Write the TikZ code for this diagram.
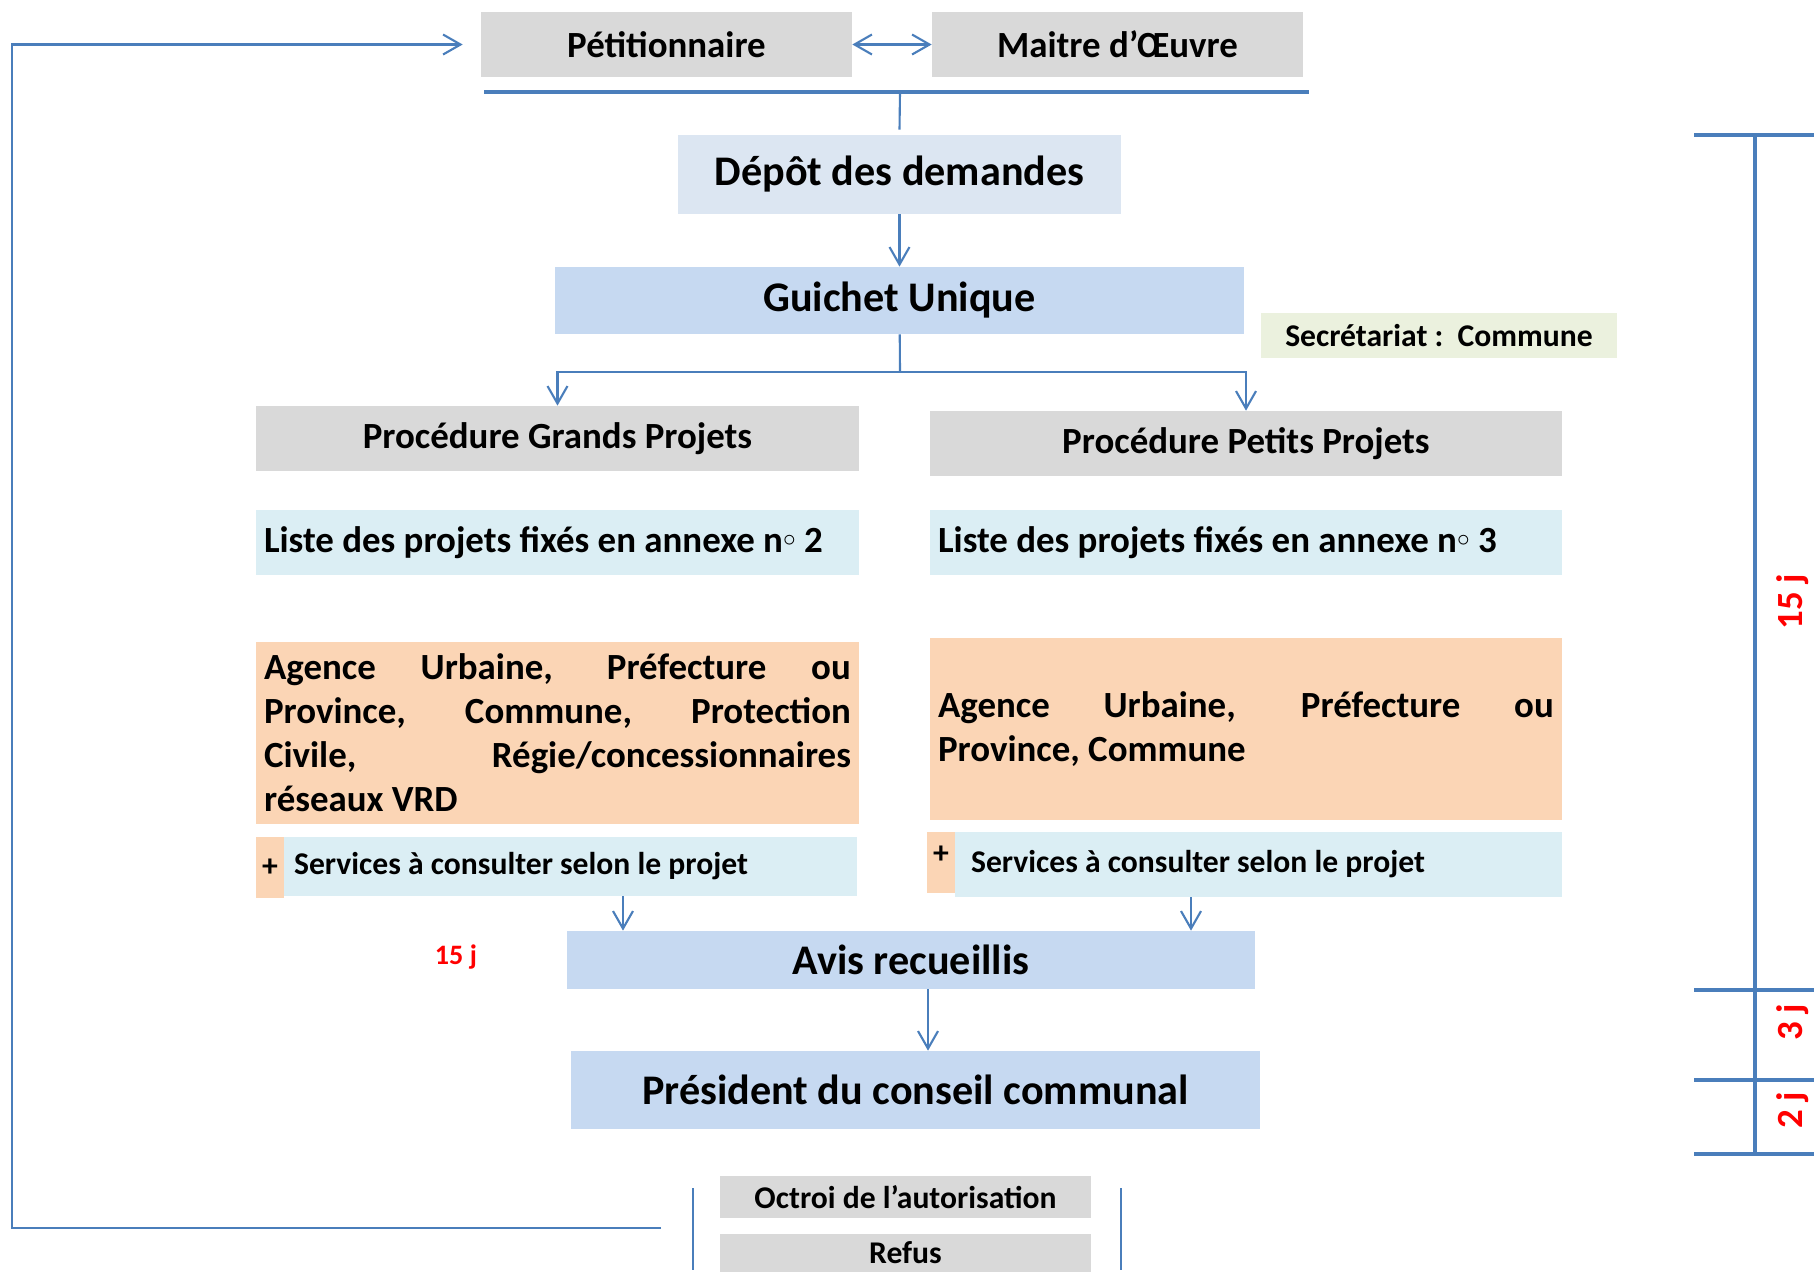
\documentclass[tikz,border=0pt]{standalone}
\usepackage{fontspec}
\setmainfont{Carlito}
\usetikzlibrary{arrows.meta}
\definecolor{linkblue}{HTML}{4A7EBB}
\definecolor{greybox}{HTML}{D9D9D9}
\definecolor{paleblue}{HTML}{DCE6F2}
\definecolor{midblue}{HTML}{C6D9F1}
\definecolor{aqua}{HTML}{DBEEF4}
\definecolor{peach}{HTML}{FBD5B5}
\definecolor{sage}{HTML}{EBF1DE}
\newcommand{\numero}{n\raisebox{0.3ex}{$\scriptstyle\circ$}}

\begin{document}
\begin{tikzpicture}[x=0.02cm, y=-0.02cm,
    big/.style={font=\fontsize{24}{28}\selectfont\bfseries},
    mid/.style={font=\fontsize{21}{25}\selectfont\bfseries},
    small/.style={font=\fontsize{18}{21}\selectfont\bfseries},
    box/.style={inner sep=0pt, align=center},
    link/.style={draw=linkblue, line width=1.2pt},
    bar/.style={draw=linkblue, line width=1.8pt},
    tip/.style={-{Straight Barb[length=3.5mm,width=4mm]}},
    delay/.style={text=red, font=\fontsize{21}{25}\selectfont\bfseries, rotate=90}]
    \useasboundingbox (0,0) rectangle (1816,1272);

    \node[box, mid, fill=greybox, minimum width=7.42cm, minimum height=1.3cm] (pet) at (666.5,44.5) {Pétitionnaire};
    \node[box, mid, fill=greybox, minimum width=7.42cm, minimum height=1.3cm] (moe) at (1117.5,44.5) {Maitre d’Œuvre};
    \node[box, big, fill=paleblue, minimum width=8.86cm, minimum height=1.58cm] (depot) at (899.5,174.5) {Dépôt des demandes};
    \node[box, big, fill=midblue, minimum width=13.78cm, minimum height=1.34cm] (guichet) at (899.5,300.5) {Guichet Unique};
    \node[box, small, fill=sage, minimum width=7.12cm, minimum height=0.9cm] (secr) at (1439,335.5) {Secrétariat :\ \ Commune};

    \node[box, mid, fill=greybox, minimum width=12.06cm, minimum height=1.3cm] (procG) at (557.5,438.5) {Procédure Grands Projets};
    \node[box, mid, fill=greybox, minimum width=12.64cm, minimum height=1.3cm] (procP) at (1246,443.5) {Procédure Petits Projets};
    \node[box, mid, fill=aqua, inner xsep=0.16cm, text width=11.74cm, align=flush left, minimum height=1.3cm] (listeG) at (557.5,542.5) {Liste des projets fixés en annexe \numero\ 2};
    \node[box, mid, fill=aqua, inner xsep=0.16cm, text width=12.32cm, align=flush left, minimum height=1.3cm] (listeP) at (1246,542.5) {Liste des projets fixés en annexe \numero\ 3};
    \node[box, mid, fill=peach, inner xsep=0.16cm, text width=11.74cm, align=justify, minimum height=3.64cm] (agG) at (557.5,733) {Agence Urbaine, Préfecture ou\linebreak Province, Commune, Protection\linebreak Civile, Régie/concessionnaires\linebreak réseaux VRD};
    \node[box, mid, fill=peach, inner xsep=0.16cm, text width=12.32cm, align=justify, minimum height=3.64cm] (agP) at (1246,729) {Agence Urbaine, Préfecture ou\linebreak Province, Commune};

    \node[box, small, fill=peach, minimum width=0.56cm, minimum height=1.22cm] (plusG) at (270,867.5) {+};
    \node[box, small, fill=aqua, inner xsep=0.2cm, text width=11.06cm, align=flush left, minimum height=1.18cm] (servG) at (570.5,866.5) {Services à consulter selon le projet};
    \node[box, small, fill=peach, minimum width=0.56cm, minimum height=1.22cm, text depth=0.3cm] (plusP) at (941,862.5) {+};
    \node[box, small, fill=aqua, inner xsep=0.32cm, text width=11.5cm, align=flush left, minimum height=1.3cm] (servP) at (1258.5,864.5) {Services à consulter selon le projet};

    \node[box, big, fill=midblue, minimum width=13.76cm, minimum height=1.16cm] (avis) at (911,960) {Avis recueillis};
    \node[box, big, fill=midblue, minimum width=13.78cm, minimum height=1.56cm] (pres) at (915.5,1090) {Président du conseil communal};
    \node[box, small, fill=greybox, minimum width=7.42cm, minimum height=0.84cm] (octroi) at (905.5,1197) {Octroi de l’autorisation};
    \node[box, small, fill=greybox, minimum width=7.42cm, minimum height=0.76cm] (refus) at (905.5,1253) {Refus};

    \node[text=red, font=\fontsize{16}{19}\selectfont\bfseries] (dAvis) at (456,957) {15 j};
    \node[delay] (d15) at (1793,602) {15 j};
    \node[delay] (d3) at (1793,1022) {3 j};
    \node[delay] (d2) at (1793,1110) {2 j};

    \coordinate (barL) at (484,92);
    \coordinate (barR) at (1309,92);
    \coordinate (barM) at (900,92);
    \coordinate (split) at (900,372);
    \coordinate (inG) at (623,0);
    \coordinate (inP) at (1191,0);
    \coordinate (inR) at (928,0);
    \coordinate (back) at (661,1228);
    \coordinate (corner) at (12,44.5);

    \draw[link, {Straight Barb[length=3.5mm,width=4mm]}-{Straight Barb[length=3.5mm,width=4mm]}] (pet) -- (moe);
    \draw[bar] (barL) -- (barR);
    \draw[link] (barM) -- ([yshift=0.1cm]depot.north);
    \draw[link, tip] (depot) -- (guichet);
    \draw[link] (guichet) -- (split);
    \draw[link, tip] (split) -| (procG);
    \draw[link, tip] (split) -| (procP);
    \draw[link, tip] (servG.south -| inG) -- (avis.north -| inG);
    \draw[link, tip] (servP.south -| inP) -- (avis.north -| inP);
    \draw[link, tip] (avis.south -| inR) -- (pres.north -| inR);
    \draw[link, tip] (back) -| (corner) -- ([xshift=-0.36cm]pet.west);
    \draw[link] (693,1188) -- (693,1270);
    \draw[link] (1121,1188) -- (1121,1270);

    \draw[bar] (1755,135) -- (1755,1154);
    \foreach \t in {135,990,1080,1154}
        \draw[bar] (1694,\t) -- (1814,\t);
\end{tikzpicture}
\end{document}
